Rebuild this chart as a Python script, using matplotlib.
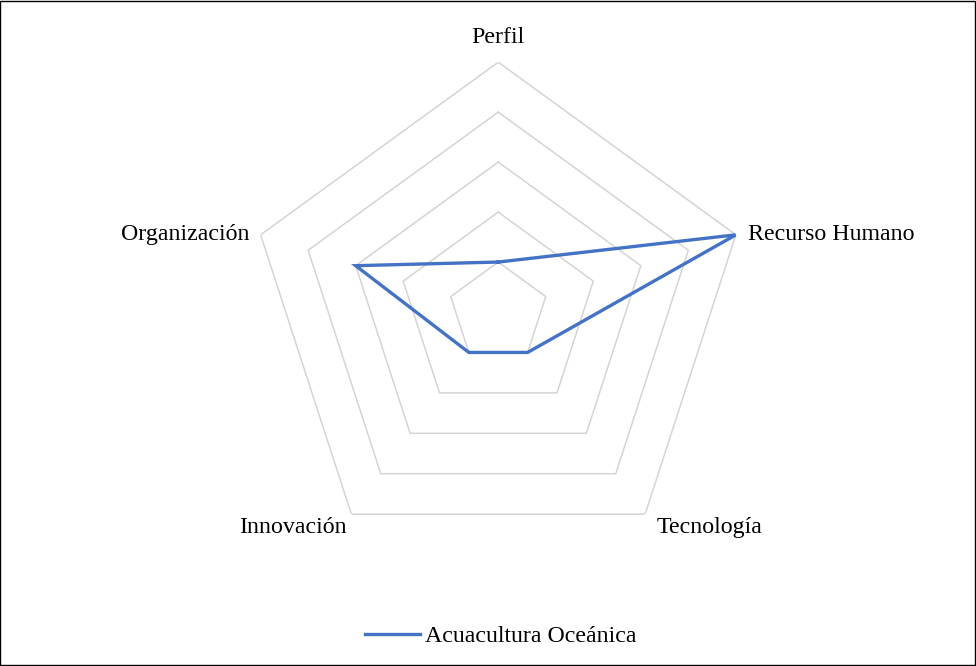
import numpy as np
import matplotlib.pyplot as plt
from matplotlib.patches import Rectangle

# data
categories = ["Perfil", "Recurso Humano", "Tecnología", "Innovación", "Organización"]
values = [1, 5, 1, 1, 3]
series_name = "Acuacultura Oceánica"
grid_levels = [1, 2, 3, 4, 5]

plt.rcParams['font.family'] = ['Liberation Serif', 'DejaVu Serif']

fig = plt.figure(figsize=(9.76, 6.66), dpi=100)
ax = fig.add_axes([0.2545, 0.156, 0.512, 0.751], projection='polar')
ax.set_theta_zero_location('N')
ax.set_theta_direction(-1)

n = len(categories)
theta = np.linspace(0, 2 * np.pi, n, endpoint=False)
theta_closed = np.append(theta, theta[0])

# pentagon grid
for lev in grid_levels:
    ax.plot(theta_closed, [lev] * (n + 1), color='#D4D4D4', lw=1.1, zorder=1)

vals = values + values[:1]
ax.plot(theta_closed, vals, color='#4472C4', lw=2.4, zorder=3,
        solid_joinstyle='miter', label=series_name)

ax.set_ylim(0, 5)
ax.set_xticks([])
ax.set_yticks([])
ax.grid(False)
ax.spines['polar'].set_visible(False)
ax.patch.set_visible(False)

# category labels (offsets in points)
offsets = [(0, 18, 'center', 'center'),
           (9, 0, 'left', 'center'),
           (8, -9.5, 'left', 'center'),
           (-3, -9.5, 'right', 'center'),
           (-8, 0, 'right', 'center')]
for t, lab, (dx, dy, ha, va) in zip(theta, categories, offsets):
    ax.annotate(lab, xy=(t, 5), xytext=(dx, dy), textcoords='offset points',
                ha=ha, va=va, fontsize=17.2, color='#000000', annotation_clip=False)

fig.legend(loc='center', bbox_to_anchor=(0.513, 0.045), frameon=False,
           fontsize=17.2, handlelength=2.3, handletextpad=0.2)

fig.patches.append(Rectangle((0.0005, 0.0008), 0.998, 0.998, transform=fig.transFigure,
                             fill=False, edgecolor='black', lw=1.0))

fig.savefig('out.png', dpi=100)
